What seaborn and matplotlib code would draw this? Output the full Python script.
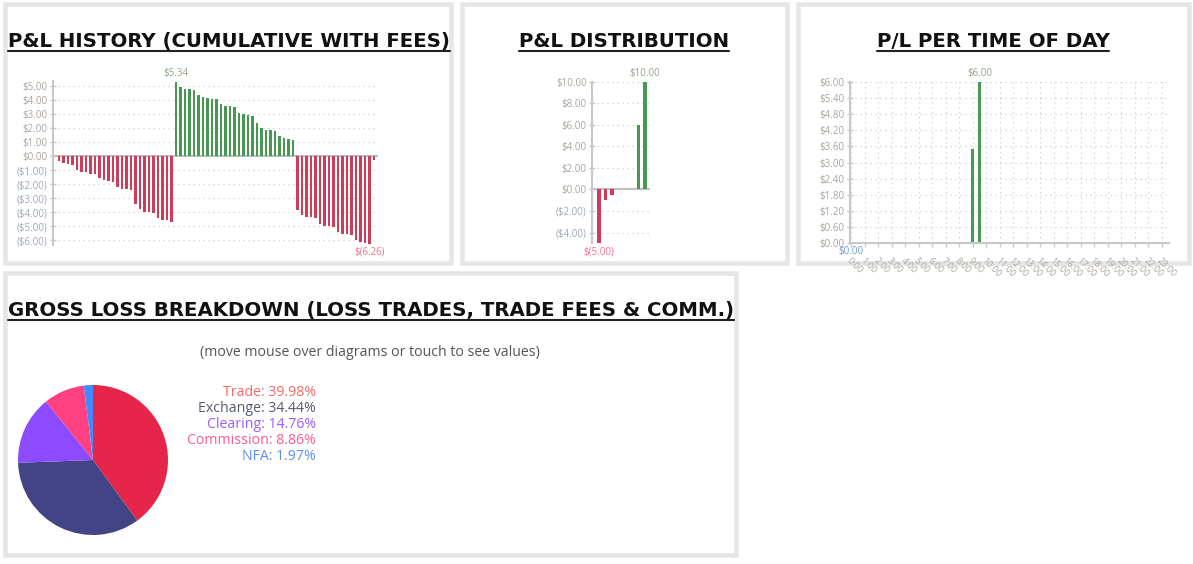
import numpy as np
import pandas as pd
import seaborn as sns
import matplotlib.pyplot as plt
from matplotlib.patches import Rectangle
from matplotlib.lines import Line2D

sns.set_theme(style="white")
plt.rcParams['font.family'] = ['Open Sans', 'DejaVu Sans']

# cumulative P&L after each trade (with fees)
pnl_history = [
    -0.36, -0.50, -0.52, -0.60, -0.98, -1.10, -1.14, -1.24, -1.24, -1.57,
    -1.71, -1.76, -1.83, -2.17, -2.31, -2.33, -2.43, -3.43, -3.79, -3.95,
    -3.98, -4.05, -4.38, -4.55, -4.57, -4.67,
    5.34, 4.95, 4.80, 4.78, 4.71, 4.36, 4.21, 4.17, 4.10, 4.07,
    3.74, 3.60, 3.57, 3.50, 3.12, 3.00, 2.95, 2.88, 2.38, 2.02,
    1.90, 1.86, 1.79, 1.43, 1.31, 1.26, 1.17,
    -3.80, -4.17, -4.31, -4.36, -4.43, -4.81, -4.95, -4.98, -5.02, -5.40,
    -5.55, -5.57, -5.64, -6.00, -6.14, -6.17, -6.26, -0.29,
]
hist_ticks = [5, 4, 3, 2, 1, 0, -1, -2, -3, -4, -5, -6]

# P&L distribution buckets
dist_values = [-5.00, -1.00, -0.50, 0.00, 0.00, 0.00, 6.00, 10.00]
dist_ticks = [10, 8, 6, 4, 2, 0, -2, -4]

# P/L per time of day, half hour slots
tod_slots = [h + m / 60 for h in range(24) for m in (0, 30)]
tod_pnl = [0.0] * 18 + [3.50, 6.00] + [0.0] * 28
tod_hours = list(range(24))
tod_ticks = [0.0, 0.6, 1.2, 1.8, 2.4, 3.0, 3.6, 4.2, 4.8, 5.4, 6.0]

# gross loss breakdown
loss_labels = ["Trade", "Exchange", "Clearing", "Commission", "NFA"]
loss_pct = [39.98, 34.44, 14.76, 8.86, 1.97]
loss_colors = ["#e52549", "#434485", "#8c4bff", "#ff4081", "#448aff"]
loss_text_colors = ["#f06a6a", "#555a72", "#9b5cff", "#ff5c8c", "#5b8dff"]

GREEN = "#38a64a"
RED = "#e5254a"
POS_LAB = "#aaa49c"
NEG_LAB = "#9ea7bb"
AXIS = "#c8c8c8"
GRID = "#cfcfcf"

W, H = 1193, 564
fig = plt.figure(figsize=(W / 100, H / 100), dpi=100)


def px_axes(x0, y0, x1, y1, **kw):
    return fig.add_axes([x0 / W, 1 - y1 / H, (x1 - x0) / W, (y1 - y0) / H], **kw)


def money(v):
    return f"${v:.2f}" if v >= 0 else f"(${-v:.2f})"


def money_lab(v):
    return f"${v:.2f}" if v >= 0 else f"$({-v:.2f})"


# background layer: panel frames and texts
bg = px_axes(0, 0, W, H, zorder=0)
bg.set_xlim(0, W)
bg.set_ylim(H, 0)
bg.axis('off')
for x0, y0, x1, y1 in [(4.7, 4.2, 451, 263), (461.5, 4.2, 786.5, 263),
                       (797.5, 4.2, 1188.5, 263), (4.7, 272.5, 735.5, 554.5)]:
    bg.add_patch(Rectangle((x0, y0), x1 - x0, y1 - y0, fill=False,
                           ec="#e6e6e6", lw=3.3))

titles = []
for x, y, s, ha in [(8, 47, "P&L HISTORY (CUMULATIVE WITH FEES)", 'left'),
                    (624, 47, "P&L DISTRIBUTION", 'center'),
                    (993, 47, "P/L PER TIME OF DAY", 'center'),
                    (8, 316, "GROSS LOSS BREAKDOWN (LOSS TRADES, TRADE FEES & COMM.)", 'left')]:
    t = bg.text(x, y, s, ha=ha, va='baseline', fontsize=14.2, fontweight='bold',
                family='DejaVu Sans', color="#111111")
    titles.append((t, y))

bg.text(370, 353, "(move mouse over diagrams or touch to see values)",
        ha='center', va='center', fontsize=10.2, color="#555555")
for i, (lab, pct, c) in enumerate(zip(loss_labels, loss_pct, loss_text_colors)):
    bg.text(316, 393 + 16 * i, f"{lab}: {pct:.2f}%", ha='right', va='center',
            fontsize=10.2, color=c)


def style_axes(ax, ticks, ylim, zero_line=True):
    ax.set_facecolor('none')
    ax.set_ylim(ylim)
    ax.set_yticks(ticks)
    ax.set_yticklabels([money(t) for t in ticks])
    for lab, t in zip(ax.get_yticklabels(), ticks):
        lab.set_color(POS_LAB if t >= 0 else NEG_LAB)
    ax.tick_params(axis='y', direction='inout', length=5, width=1, color=AXIS,
                   labelsize=7, pad=1.5, left=True)
    for s in ['top', 'right', 'bottom']:
        ax.spines[s].set_visible(False)
    ax.spines['left'].set_color(AXIS)
    ax.spines['left'].set_linewidth(1.5)
    ax.set_xlabel('')
    ax.set_ylabel('')
    ax.grid(axis='y', color=GRID, lw=0.9, ls=(0, (1, 3)))
    ax.set_axisbelow(True)
    if zero_line:
        ax.axhline(0, color="#bdbdbd", lw=1.5, zorder=0.5)
        ax.set_xticks([])


def add_extremes(ax, xs, ys, min_color):
    i_max = int(np.argmax(ys))
    i_min = int(np.argmin(ys))
    ax.annotate(money_lab(ys[i_max]), (xs[i_max], ys[i_max]), xytext=(0, 2),
                textcoords='offset points', ha='center', va='bottom',
                fontsize=7, color="#8fa588", annotation_clip=False)
    ax.annotate(money_lab(ys[i_min]), (xs[i_min], min(ys[i_min], 0)), xytext=(0, -2),
                textcoords='offset points', ha='center', va='top',
                fontsize=7, color=min_color, annotation_clip=False)


# P&L history
ax1 = px_axes(53, 80.7, 378, 244.5, zorder=1)
hist_df = pd.DataFrame({'trade': range(len(pnl_history)), 'pnl': pnl_history})
hist_df['side'] = np.where(hist_df.pnl >= 0, 'win', 'loss')
sns.barplot(data=hist_df, x='trade', y='pnl', hue='side',
            palette={'win': GREEN, 'loss': RED}, native_scale=True, width=0.6,
            dodge=False, legend=False, errorbar=None, linewidth=0, ax=ax1)
style_axes(ax1, hist_ticks, (-6.3, 5.4))
ax1.set_xlim(-1.33, 70.9)
add_extremes(ax1, hist_df.trade.tolist(), pnl_history, "#f0738f")

# P&L distribution
ax2 = px_axes(592.3, 81.7, 650, 243.3, zorder=1)
dist_df = pd.DataFrame({'bucket': range(len(dist_values)), 'pnl': dist_values})
dist_df['side'] = np.where(dist_df.pnl >= 0, 'win', 'loss')
sns.barplot(data=dist_df, x='bucket', y='pnl', hue='side',
            palette={'win': GREEN, 'loss': RED}, native_scale=True, width=0.5,
            dodge=False, legend=False, errorbar=None, linewidth=0, ax=ax2)
style_axes(ax2, dist_ticks, (-5, 10))
ax2.set_xlim(-1, 7.75)
add_extremes(ax2, dist_df.bucket.tolist(), dist_values, "#f0738f")

# P/L per time of day
ax3 = px_axes(850, 81.7, 1169, 243.3, zorder=1)
tod_df = pd.DataFrame({'slot': tod_slots, 'pnl': tod_pnl})
sns.barplot(data=tod_df, x='slot', y='pnl', color=GREEN, native_scale=True,
            width=0.5, errorbar=None, linewidth=0, ax=ax3)
style_axes(ax3, tod_ticks, (0, 6), zero_line=False)
ax3.set_xlim(-0.1, 23.55)
ax3.set_xticks(tod_hours)
ax3.set_xticklabels([f"{h}:00" for h in tod_hours], rotation=-45, ha='left',
                    va='top', rotation_mode='anchor')
ax3.spines['bottom'].set_visible(True)
ax3.spines['bottom'].set_color(AXIS)
ax3.spines['bottom'].set_linewidth(1.5)
ax3.tick_params(axis='x', bottom=True, length=3, width=1, color=AXIS, labelsize=6.5,
                labelcolor=POS_LAB, pad=6)
ax3.grid(axis='x', color=GRID, lw=0.9, ls=(0, (1, 3)))
add_extremes(ax3, tod_slots, tod_pnl, "#6d9bd3")

# gross loss pie
ax4 = px_axes(93 - 75, 460 - 75, 93 + 75, 460 + 75, zorder=1)
ax4.pie(loss_pct, colors=loss_colors, startangle=90, counterclock=False,
        wedgeprops={'linewidth': 0})
ax4.set_aspect('equal')
ax4.set_xlim(-1, 1)
ax4.set_ylim(-1, 1)

# underline the titles
fig.canvas.draw()
r = fig.canvas.get_renderer()
inv = bg.transData.inverted()
for t, y in titles:
    bb = t.get_window_extent(r)
    xa = inv.transform((bb.x0, 0))[0]
    xb = inv.transform((bb.x1, 0))[0]
    bg.add_line(Line2D([xa, xb], [y + 3.5, y + 3.5], color="#222222", lw=1.5))

fig.savefig("out.png", dpi=100)
